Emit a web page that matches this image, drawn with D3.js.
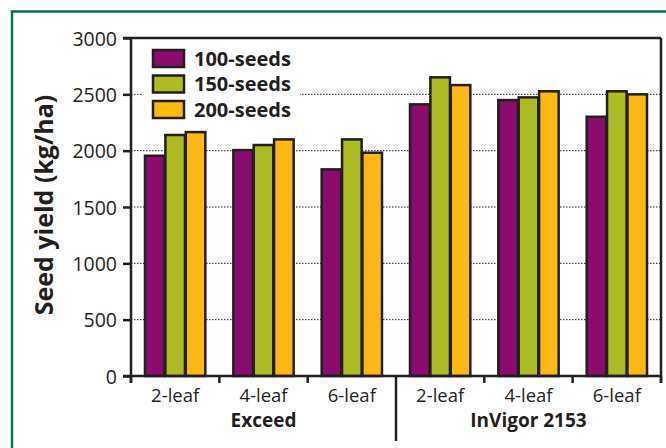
<!DOCTYPE html>
<meta charset="utf-8">
<script src="https://d3js.org/d3.v7.min.js"></script>
<style>
  body { margin: 0; background: #fff; }
  text { font-family: "Open Sans", Lato, sans-serif; fill: #231f20; }
</style>
<div id="chart"></div>
<script>
// data
const categories = ["2-leaf", "4-leaf", "6-leaf", "2-leaf", "4-leaf", "6-leaf"];
const groups = ["Exceed", "InVigor 2153"];
const series = ["100-seeds", "150-seeds", "200-seeds"];
const seeds100 = [1955, 2005, 1834, 2411, 2449, 2301];
const seeds150 = [2139, 2050, 2100, 2651, 2473, 2527];
const seeds200 = [2165, 2100, 1982, 2582, 2527, 2500];
const yTicks = [0, 500, 1000, 1500, 2000, 2500, 3000];
const colors = ["#8a0c6c", "#adbb22", "#fdb913"];

const ink = "#231f20";
const W = 666, H = 448;
const pLeft = 131, pRight = 661, pTop = 38, pBottom = 376;

const svg = d3.select("#chart").append("svg")
  .attr("width", W).attr("height", H);

// green frame round the figure
svg.append("rect")
  .attr("x", 12).attr("y", 11.5)
  .attr("width", 700).attr("height", 500)
  .attr("fill", "none").attr("stroke", "#0f6e55").attr("stroke-width", 2.5);

const x = d3.scaleBand()
  .domain(d3.range(categories.length))
  .range([pLeft, pRight]);

const xInner = d3.scaleBand()
  .domain(series)
  .range([14, x.bandwidth() - 14])
  .paddingInner(0.04);

const y = d3.scaleLinear().domain([0, 3000]).range([pBottom, pTop]);

// dotted grid
svg.append("g").selectAll("line")
  .data(yTicks.filter(d => d > 0 && d < 3000))
  .join("line")
    .attr("x1", pLeft).attr("x2", pRight)
    .attr("y1", d => y(d)).attr("y2", d => y(d))
    .attr("stroke", ink).attr("stroke-width", 1)
    .attr("stroke-dasharray", "1.5,1.5");

// legend background hides the grid
svg.append("rect")
  .attr("x", 142).attr("y", 44).attr("width", 158).attr("height", 80)
  .attr("fill", "#fff");

// bars
const rows = categories.map((c, i) => ({
  i: i,
  vals: [seeds100[i], seeds150[i], seeds200[i]]
}));

const cat = svg.append("g").selectAll("g")
  .data(rows)
  .join("g")
    .attr("transform", d => `translate(${x(d.i)},0)`);

cat.selectAll("rect")
  .data(d => d.vals.map((v, k) => ({ s: series[k], v: v, k: k })))
  .join("rect")
    .attr("x", d => xInner(d.s))
    .attr("y", d => y(d.v))
    .attr("width", xInner.bandwidth())
    .attr("height", d => pBottom - y(d.v))
    .attr("fill", d => colors[d.k])
    .attr("stroke", ink).attr("stroke-width", 2.5);

// y axis
const yAxis = svg.append("g")
  .attr("transform", `translate(${pLeft},0)`)
  .call(d3.axisLeft(y).tickValues(yTicks).tickFormat(d3.format("d")).tickSize(8).tickPadding(6));
yAxis.select(".domain").remove();
yAxis.selectAll(".tick line").attr("stroke", ink).attr("stroke-width", 2.5);
yAxis.selectAll(".tick text")
  .style("font-family", "'Open Sans', sans-serif")
  .style("font-size", "19.5px").attr("fill", ink).attr("dy", "0.36em");

// frame lines of the plot
const frame = svg.append("g").attr("stroke", ink).attr("stroke-width", 2.5).attr("fill", "none");
frame.append("line").attr("x1", pLeft).attr("x2", pLeft).attr("y1", pTop).attr("y2", pBottom + 7);
frame.append("line").attr("x1", pLeft - 8).attr("x2", pRight).attr("y1", pTop).attr("y2", pTop);
frame.append("line").attr("x1", pRight).attr("x2", pRight).attr("y1", pTop).attr("y2", pBottom + 7);
frame.append("line").attr("x1", pLeft - 8).attr("x2", pRight).attr("y1", pBottom).attr("y2", pBottom);

// category ticks below the axis
const bounds = d3.range(categories.length + 1).map(i => i < categories.length ? x(i) : pRight);
frame.selectAll(".xt")
  .data(bounds)
  .join("line")
    .attr("x1", d => d).attr("x2", d => d)
    .attr("y1", pBottom).attr("y2", (d, i) => i === 3 ? 441 : pBottom + 7);

// category labels
svg.append("g").selectAll("text")
  .data(categories)
  .join("text")
    .attr("x", (d, i) => x(i) + x.bandwidth() / 2)
    .attr("y", 402)
    .attr("text-anchor", "middle")
    .style("font-size", "18.5px")
    .text(d => d);

// group labels
svg.append("g").selectAll("text")
  .data(groups)
  .join("text")
    .attr("x", (d, i) => x(i * 3 + 1) + x.bandwidth() / 2)
    .attr("y", 427)
    .attr("text-anchor", "middle")
    .style("font-size", "19px").style("font-weight", "bold")
    .text(d => d);

// y title
svg.append("text")
  .attr("transform", "translate(53,205) rotate(-90)")
  .attr("text-anchor", "middle")
  .style("font-size", "25px").style("font-weight", "bold")
  .text("Seed yield (kg/ha)");

// legend
const legend = svg.append("g").selectAll("g")
  .data(series)
  .join("g")
    .attr("transform", (d, i) => `translate(153,${50 + i * 25.5})`);
legend.append("rect")
  .attr("width", 31).attr("height", 17)
  .attr("fill", (d, i) => colors[i])
  .attr("stroke", ink).attr("stroke-width", 2.5);
legend.append("text")
  .attr("x", 41).attr("y", 15.5)
  .style("font-size", "20px").style("font-weight", "bold")
  .text(d => d);
</script>
